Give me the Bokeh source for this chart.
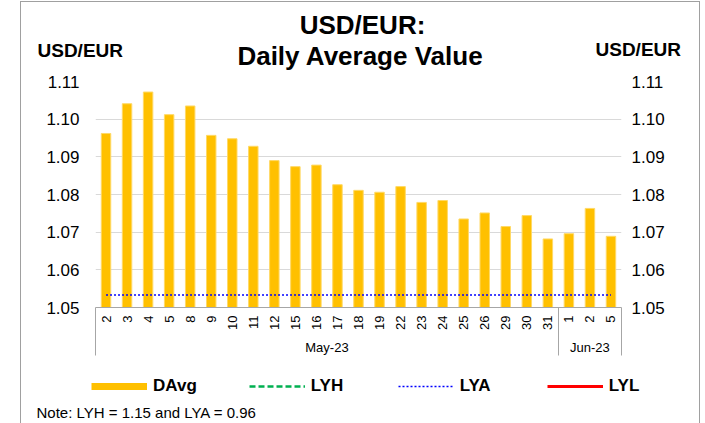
import math
from bokeh.plotting import figure
from bokeh.layouts import column
from bokeh.models import (Range1d, LinearAxis, FixedTicker, NumeralTickFormatter,
                          Label, Legend, LegendItem)
from bokeh.embed import file_html
from bokeh.resources import INLINE

# ---------------- data ----------------
days = ["2", "3", "4", "5", "8", "9", "10", "11", "12", "15", "16", "17", "18",
        "19", "22", "23", "24", "25", "26", "29", "30", "31", "1", "2", "5"]
months = ["May-23"] * 22 + ["Jun-23"] * 3
davg = [1.0962, 1.1041, 1.1072, 1.1012, 1.1035, 1.0957, 1.0948, 1.0928, 1.0890,
        1.0874, 1.0878, 1.0826, 1.0811, 1.0806, 1.0821, 1.0779, 1.0784, 1.0735,
        1.0751, 1.0715, 1.0744, 1.0682, 1.0696, 1.0763, 1.0689]
LYH = 1.15      # off the visible scale (see note)
LYA = 1.0533    # level where the dotted line is drawn
y_ticks = [1.05, 1.06, 1.07, 1.08, 1.09, 1.10, 1.11]
title_lines = ["USD/EUR:", "Daily Average Value"]
axis_title = "USD/EUR"
note = "Note: LYH = 1.15 and LYA = 0.96"
series_names = ["DAvg", "LYH", "LYA", "LYL"]

FONT = "Liberation Sans"
BAR = "#FFC000"
GRAY = "#a6a6a6"
NAN = float("nan")

n = len(days)
idx = list(range(n))

# group structure derived from months
groups = []
for i, m in enumerate(months):
    if not groups or groups[-1][0] != m:
        groups.append([m, i, i])
    else:
        groups[-1][2] = i
group_centers = [(g[1] + g[2]) / 2 for g in groups]
separators = [groups[0][1] - 0.5] + [g[2] + 0.5 for g in groups]

# ---------------- page geometry ----------------
PX, PY = 20, 1            # outer border position on the page
CX, CY = PX + 1, PY + 1   # content origin inside the border
CW = 678                  # content width
FL, FT, FR, FB = 95, 81, 621, 307   # plot frame on the page
TOP_END = 73              # header strip: CY .. TOP_END
MAIN_END = 363            # chart strip: TOP_END .. MAIN_END
PAGE_END = 423            # footer strip: MAIN_END .. PAGE_END


def no_align(f):
    if "frame_align" in f.properties():
        f.frame_align = False
    return f


def blank_fig(height):
    f = figure(width=CW, height=height, x_range=Range1d(0, CW), y_range=Range1d(0, height),
               x_axis_type=None, y_axis_type=None, output_backend="svg",
               toolbar_location=None, min_border=0)
    f.outline_line_color = None
    f.background_fill_color = "white"
    f.border_fill_color = "white"
    f.xgrid.visible = False
    f.ygrid.visible = False
    return no_align(f)

# ---------------- header: title and axis titles ----------------
top = blank_fig(TOP_END - CY)

def add_text(f, f_top, text, X, Y, size, bold=False, align="left"):
    # X: page x of the text's left edge / centre; Y: page y of the middle of the capitals
    f_bottom = f_top + f.height
    f.add_layout(Label(x=X - CX, y=f_bottom - Y, x_units="screen", y_units="screen",
                       text=text, text_font=FONT, text_font_size=size,
                       text_font_style="bold" if bold else "normal",
                       text_align=align, text_baseline="middle",
                       text_color="black"))

add_text(top, CY, title_lines[0], 362, 24, "26px", True, "center")
add_text(top, CY, title_lines[1], 360, 55.5, "26px", True, "center")
add_text(top, CY, axis_title, 37, 50, "19px", True)
add_text(top, CY, axis_title, 595, 48.5, "19px", True)

# ---------------- main chart ----------------
p = figure(width=CW, height=MAIN_END - TOP_END, x_range=Range1d(-0.5, n - 0.5),
           y_range=Range1d(y_ticks[0], y_ticks[-1]),
           output_backend="svg", toolbar_location=None,
           min_border_left=FL - CX, min_border_right=CX + CW - FR,
           min_border_top=FT - TOP_END, min_border_bottom=MAIN_END - FB)
no_align(p)
p.outline_line_color = None
p.background_fill_color = "white"
p.border_fill_color = "white"

p.xgrid.visible = False
p.ygrid.ticker = FixedTicker(ticks=y_ticks)
p.ygrid.grid_line_color = "#d9d9d9"
p.ygrid.grid_line_width = 1.2

p.vbar(x=idx, top=davg, bottom=y_ticks[0], width=0.45, fill_color=BAR,
       line_color="#FFD966", line_width=1)
p.line(x=idx, y=[LYH] * n, line_color="#00B050", line_width=2.5, line_dash="6 3")
p.line(x=idx, y=[LYA] * n, line_color="#0000FF", line_width=1.6, line_dash="2 2")

def style_y(ax, standoff):
    ax.ticker = FixedTicker(ticks=y_ticks)
    ax.formatter = NumeralTickFormatter(format="0.00")
    ax.axis_line_color = None
    ax.major_tick_line_color = None
    ax.minor_tick_line_color = None
    ax.major_tick_out = 0
    ax.major_tick_in = 0
    ax.minor_tick_out = 0
    ax.minor_tick_in = 0
    ax.major_label_standoff = standoff
    ax.major_label_text_font = FONT
    ax.major_label_text_font_size = "17px"
    ax.major_label_text_color = "black"

style_y(p.yaxis[0], 16)
ry = LinearAxis()
style_y(ry, 10)
p.add_layout(ry, "right")

SEP_LEN = 48
xa = p.xaxis[0]
xa.ticker = FixedTicker(ticks=idx, minor_ticks=separators)
xa.major_label_overrides = {i: d for i, d in zip(idx, days)}
xa.major_label_orientation = math.pi / 2
xa.major_label_text_font = FONT
xa.major_label_text_font_size = "13px"
xa.major_label_text_color = "black"
xa.major_label_standoff = 8 - SEP_LEN
xa.major_tick_line_color = None
xa.major_tick_out = 0
xa.major_tick_in = 0
xa.minor_tick_line_color = GRAY
xa.minor_tick_out = SEP_LEN
xa.minor_tick_in = 0
xa.axis_line_color = GRAY

ga = LinearAxis(ticker=FixedTicker(ticks=group_centers),
                major_label_overrides={c: g[0] for c, g in zip(group_centers, groups)})
ga.axis_line_color = None
ga.major_tick_line_color = None
ga.minor_tick_line_color = None
ga.major_tick_out = 0
ga.major_tick_in = 0
ga.minor_tick_out = 0
ga.minor_tick_in = 0
ga.major_label_standoff = 7
ga.major_label_text_font = FONT
ga.major_label_text_font_size = "13px"
ga.major_label_text_color = "black"
p.add_layout(ga, "below")

# ---------------- footer: legend and note ----------------
bot = blank_fig(PAGE_END - MAIN_END)
k_davg = bot.line(x=[NAN], y=[NAN], line_color=BAR, line_width=7)
k_lyh = bot.line(x=[NAN], y=[NAN], line_color="#00B050", line_width=2.5, line_dash="6 3")
k_lya = bot.line(x=[NAN], y=[NAN], line_color="#0000FF", line_width=1.6, line_dash="2 2")
k_lyl = bot.line(x=[NAN], y=[NAN], line_color="#FF0000", line_width=3)

LEG_H = 22
legend = Legend(items=[LegendItem(label=nm, renderers=[r]) for nm, r in
                       zip(series_names, [k_davg, k_lyh, k_lya, k_lyl])],
                orientation="horizontal")
legend.glyph_width = 56
legend.glyph_height = LEG_H
legend.label_height = LEG_H
legend.label_width = 35
legend.label_standoff = 6
legend.spacing = 52
legend.padding = 0
legend.margin = 0
legend.border_line_color = None
legend.background_fill_alpha = 0
legend.label_text_font = FONT
legend.label_text_font_size = "17px"
legend.label_text_font_style = "bold"
legend.label_text_color = "black"
legend.location = (91 - CX, PAGE_END - (386 + LEG_H // 2))
bot.add_layout(legend, "center")

add_text(bot, MAIN_END, note, 36, 412, "15px")

layout = column(top, p, bot, spacing=0)
layout.margin = (PY, 0, 0, PX)
layout.styles = {"border-left": "1px solid #a0a0a0", "border-top": "1px solid #a0a0a0",
                 "border-right": "1px solid #a0a0a0"}

open("out.html", "w").write(file_html(layout, INLINE))
